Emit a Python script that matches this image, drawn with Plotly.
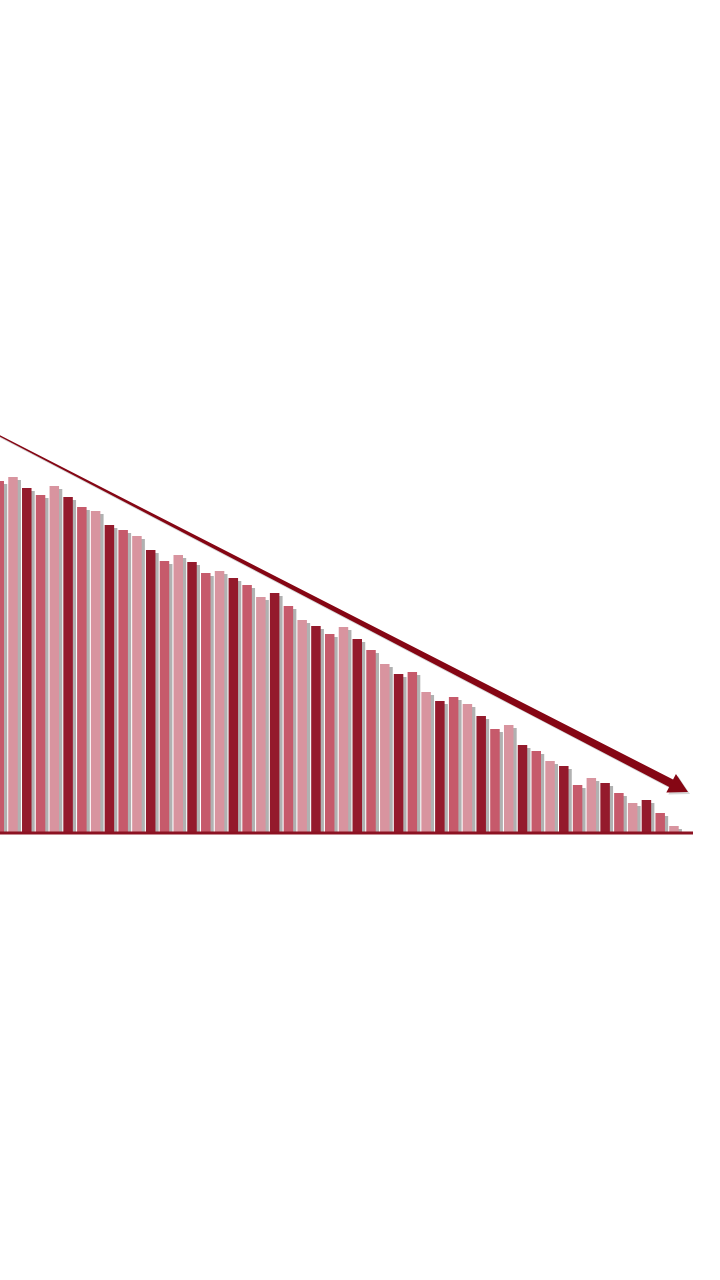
import numpy as np
import plotly.graph_objects as go

# bar heights (pixel-ish units above the baseline)
values = [352, 356, 345, 338, 347, 336, 326, 322, 308, 303,
          297, 283, 272, 278, 271, 260, 262, 255, 248, 236,
          240, 227, 213, 207, 199, 206, 194, 183, 169, 159,
          161, 141, 132, 136, 129, 117, 104, 108, 88, 82,
          72, 67, 48, 55, 50, 40, 30, 33, 20, 7]
positions = list(range(len(values)))
palette = ["#c65a6b", "#d8949f", "#941a2c"]  # medium, light, dark - repeats
bar_colours = [palette[i % 3] for i in positions]

PITCH = 13.77          # px per category
X0 = 0.056             # left edge of the visible range
W, H = 720, 1280
BASE_PX = 833          # baseline from top


def to_data(px, py):
    return X0 + px / PITCH, BASE_PX - py


fig = go.Figure()

# soft shadow behind the bars
shadow_dx = 3.0 / PITCH
fig.add_trace(go.Bar(
    x=[p + shadow_dx for p in positions],
    y=[max(v - 3, 0) for v in values],
    width=0.72,
    marker=dict(color="rgba(100,100,100,0.5)", line_width=0),
    hoverinfo="skip",
))
fig.add_trace(go.Bar(
    x=positions,
    y=values,
    width=0.69,
    marker=dict(color=bar_colours, line_width=0),
))

# baseline
bx0, by = to_data(-5, BASE_PX)
bx1, _ = to_data(693, BASE_PX)
fig.add_shape(type="line", x0=bx0, x1=bx1, y0=0, y1=0,
              line=dict(color="#8c1222", width=3), layer="above")

# tapered trend arrow
start = np.array([-4.0, 434.0])
tip = np.array([688.0, 792.0])
d = tip - start
u = d / np.linalg.norm(d)
n = np.array([-u[1], u[0]])
head_len, head_half = 19.0, 10.5
neck = tip - head_len * u
w0, w1 = 0.6, 4.2
pts_px = [start + n * w0, neck + n * w1, neck + n * head_half, tip,
          neck - n * head_half, neck - n * w1, start - n * w0]


def path_of(pts, dx=0.0, dy=0.0):
    parts = []
    for i, (px, py) in enumerate(pts):
        x, y = to_data(px + dx, py + dy)
        parts.append(("M" if i == 0 else "L") + f"{x:.4f},{y:.3f}")
    return " ".join(parts) + " Z"


fig.add_shape(type="path", path=path_of(pts_px, 2, 2),
              fillcolor="rgba(120,120,120,0.3)", line_width=0, layer="above")
fig.add_shape(type="path", path=path_of(pts_px),
              fillcolor="#850614", line_width=0, layer="above")

fig.update_layout(
    width=W, height=H,
    margin=dict(l=0, r=0, t=0, b=0),
    barmode="overlay",
    showlegend=False,
    plot_bgcolor="white",
    paper_bgcolor="white",
    xaxis=dict(range=[X0, X0 + W / PITCH], visible=False, fixedrange=True),
    yaxis=dict(range=[BASE_PX - H, BASE_PX], visible=False, fixedrange=True),
)

fig.write_html("out.html", config={"displayModeBar": False},
               post_script="document.body.style.margin='0';")
